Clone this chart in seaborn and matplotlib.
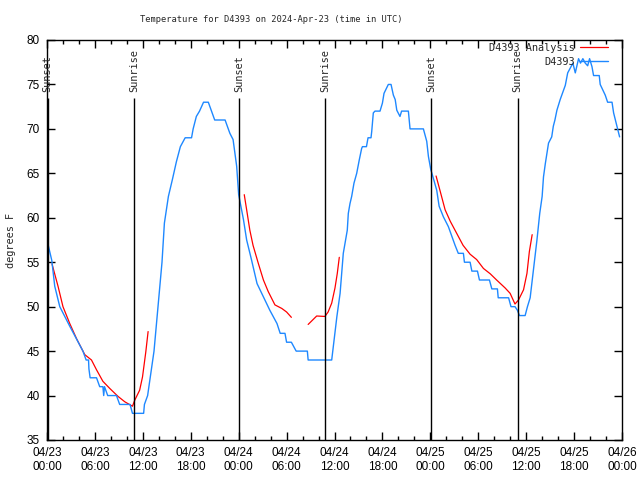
import pandas as pd
import numpy as np
import matplotlib
matplotlib.use('Agg')
import matplotlib.pyplot as plt
import matplotlib.dates as mdates
import seaborn as sns

# hours since 2024-04-23 00:00 UTC, observed temperature (deg F)
obs_hours = [0.13, 0.6, 0.97, 1.6, 2.85, 4.5, 4.9, 5.2, 5.25, 5.4, 6.2, 6.6, 7.0, 7.1, 7.2, 7.6,
             8.7, 9.1, 10.4, 10.7, 12.1, 12.2, 12.6, 13.4, 13.9, 14.4, 14.7, 15.2, 15.7, 16.2,
             16.7, 17.3, 18.1, 18.3, 18.7, 19.1, 19.6, 20.2, 21.0, 22.3, 22.9, 23.3, 23.75, 24.0,
             24.6, 25.0, 25.6, 26.3, 27.1, 27.9, 28.8, 29.2, 29.8, 30.0, 30.6, 31.2, 32.6, 32.7,
             35.65, 35.85, 36.3, 36.7, 37.1, 37.6, 37.73, 37.94, 38.15, 38.44, 38.78, 39.1, 39.4,
             39.5, 40.0, 40.2, 40.57, 40.66, 40.86, 41.07, 41.7, 42.0, 42.2, 42.74, 43.08, 43.37,
             43.6, 43.8, 44.2, 44.4, 45.25, 45.46, 47.13, 47.55, 47.76, 48.06, 48.2, 48.8, 49.1,
             49.64, 50.26, 50.7, 51.1, 51.5, 52.14, 52.27, 52.98, 53.2, 53.9, 54.15, 55.4, 55.7,
             56.4, 56.5, 57.8, 58.1, 58.6, 58.9, 59.16, 59.87, 60.16, 60.5, 60.9, 61.35, 61.7,
             62.0, 62.17, 62.4, 62.8, 63.2, 63.4, 63.6, 63.85, 64.26, 64.7, 64.9, 65.2, 65.5,
             65.85, 66.15, 66.56, 66.8, 67.1, 67.4, 67.7, 67.94, 68.24, 68.44, 69.15, 69.27,
             69.9, 70.2, 70.75, 70.95, 71.37, 71.7]
obs_temps = [57, 55.2, 52.3, 50, 47.8, 45, 44, 44, 43, 42, 42, 41, 41, 40, 41, 40,
             40, 39, 39, 38, 38, 39, 40, 45, 50, 55, 59.4, 62.4, 64.3, 66.3,
             68, 69, 69, 70, 71.4, 72, 73, 73, 71, 71, 69.5, 68.8, 65.8, 62.6,
             59.8, 57.5, 55.3, 52.6, 51.1, 49.6, 48.1, 47, 47, 46, 46, 45, 45, 44,
             44, 45.5, 48.9, 51.5, 56, 58.6, 60.5, 61.6, 62.4, 63.9, 65, 66.5, 67.8,
             68, 68, 69, 69, 69.7, 71.8, 72, 72, 72.9, 74, 75, 75, 73.8,
             73.3, 72.1, 71.4, 72, 72, 70, 70, 68.6, 66.9, 65.4, 65, 63.1, 61.3,
             60.1, 59, 57.9, 56.9, 56, 56, 55, 55, 54, 54, 53, 53, 52,
             52, 51, 51, 50, 50, 49.6, 49, 49, 50, 51, 54.1, 57.5, 60.5,
             62.4, 64.6, 66.1, 68.4, 69.1, 70.3, 71, 72.1, 73.3, 74.4, 74.9, 76.3, 76.8,
             77.4, 76.3, 77.9, 77.4, 77.9, 77.4, 77.1, 77.9, 77, 76, 76, 75,
             73.8, 73, 73, 71.8, 70.3, 69.1]

# analysis, in separate runs
ana_hours = [
    [0.63, 1.38, 2.0, 2.85, 3.7, 4.73, 5.57, 6.2, 7.0, 7.86, 8.9, 9.74, 10.7, 11.0, 11.6,
     11.96, 12.37, 12.66],
    [24.7, 25.0, 25.4, 25.8, 26.45, 27.1, 27.7, 28.54, 29.4, 30.0, 30.6],
    [32.7, 33.77, 34.8, 35.2, 35.65, 36.06, 36.35, 36.6],
    [48.72, 49.2, 49.85, 50.5, 51.3, 52.1, 52.98, 53.8, 54.65, 55.5, 56.3, 57.37, 57.99,
     58.6, 59.04, 59.67, 60.1, 60.4, 60.75],
]
ana_temps = [
    [54.8, 52.3, 50.0, 48.1, 46.4, 44.6, 44.0, 42.9, 41.6, 40.8, 39.9, 39.3, 38.8, 39.5, 40.6,
     42.1, 44.9, 47.2],
    [62.6, 60.9, 58.6, 56.9, 54.9, 53.0, 51.7, 50.2, 49.8, 49.4, 48.8],
    [48.0, 48.95, 48.9, 49.4, 50.4, 52.1, 53.75, 55.55],
    [64.7, 63.1, 60.9, 59.6, 58.25, 56.9, 55.9, 55.3, 54.3, 53.7, 53.0, 52.1, 51.5,
     50.3, 50.75, 51.9, 53.75, 56.2, 58.1],
]

sun_events = ['2024-04-23 00:04', '2024-04-23 10:55', '2024-04-24 00:04',
              '2024-04-24 10:51', '2024-04-25 00:08', '2024-04-25 10:55']
sun_labels = ['Sunset', 'Sunrise', 'Sunset', 'Sunrise', 'Sunset', 'Sunrise']

start = pd.Timestamp('2024-04-23 00:00')
red = '#ff0000'
blue = '#1e88ff'
mono = 'DejaVu Sans Mono'

sns.set_style('ticks')
plt.rcParams['font.family'] = [mono]

fig = plt.figure(figsize=(6.4, 4.8), dpi=100)
ax = fig.add_axes([47 / 640, 40 / 480, 575 / 640, 400 / 480])

for i, (h, t) in enumerate(zip(ana_hours, ana_temps)):
    seg = pd.DataFrame({'time': start + pd.to_timedelta(h, unit='h'), 'temp': t})
    sns.lineplot(data=seg, x='time', y='temp', ax=ax, color=red, linewidth=0.9,
                 label='D4393 Analysis' if i == 0 else None, legend=False)

obs = pd.DataFrame({'time': start + pd.to_timedelta(obs_hours, unit='h'), 'temp': obs_temps})
sns.lineplot(data=obs, x='time', y='temp', ax=ax, color=blue, linewidth=1.0,
             label='D4393', legend=False)

# sunrise / sunset markers
for ev, lab in zip(sun_events, sun_labels):
    ts = pd.Timestamp(ev)
    ax.vlines(ts, 35, 73.5, color='black', linewidth=1.0)
    ax.text(ts, 74.1, lab, rotation=90, ha='center', va='bottom', fontsize=7.4, family=mono)

ax.set_xlim(start, start + pd.Timedelta(hours=72))
ax.set_ylim(35, 80)
ax.set_yticks(np.arange(35, 81, 5))
ax.xaxis.set_major_locator(mdates.HourLocator(byhour=range(0, 24, 6)))
ax.xaxis.set_minor_locator(mdates.HourLocator(byhour=range(0, 24, 2)))
ax.xaxis.set_major_formatter(mdates.DateFormatter('%m/%d\n%H:%M'))
ax.tick_params(which='both', direction='in', top=True, right=True, colors='black',
               labelsize=8.5, width=1.0)
ax.tick_params(which='major', length=6, pad=5)
ax.tick_params(which='minor', length=3)
for lbl in ax.get_xticklabels() + ax.get_yticklabels():
    lbl.set_family('Liberation Sans')
for s in ax.spines.values():
    s.set_color('black')
    s.set_linewidth(1.0)

ax.set_xlabel('')
ax.set_ylabel('')
fig.text(11 / 640, 0.5, 'degrees F', rotation=90, ha='center', va='center',
         fontsize=7.4, family=mono)

handles, labels = ax.get_legend_handles_labels()
ax.legend(handles, labels, loc='upper right', bbox_to_anchor=(1 - 11 / 575, 1.0),
          frameon=False, markerfirst=False, handlelength=2.8, handletextpad=0.45,
          labelspacing=0.42, borderaxespad=0.15, borderpad=0.1,
          prop={'family': mono, 'size': 7.4})

fig.text(271 / 640, 1 - 20 / 480, 'Temperature for D4393 on 2024-Apr-23 (time in UTC)',
         ha='center', va='center', fontsize=6.3, family=mono)

fig.savefig('out.png', dpi=100)
